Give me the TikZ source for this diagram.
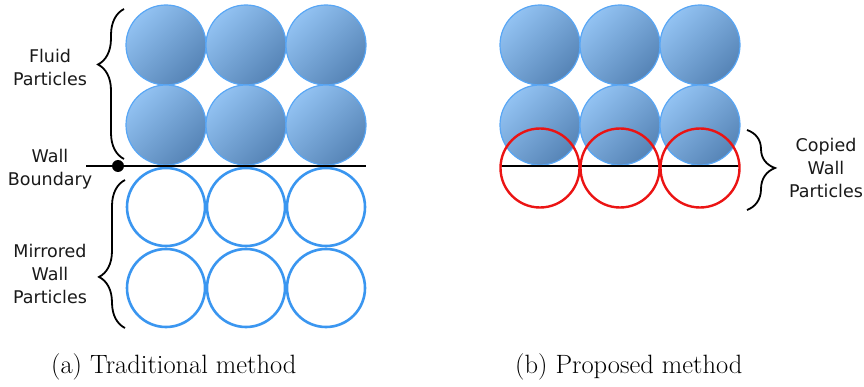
\documentclass[tikz,border=0pt]{standalone}
\usepackage{fontspec}
\newfontfamily\lblfont{DejaVu Sans}
\usetikzlibrary{decorations.pathreplacing}
\definecolor{fillA}{RGB}{146,194,242}
\definecolor{fillB}{RGB}{86,132,182}
\definecolor{ringblue}{RGB}{88,166,245}
\definecolor{openblue}{RGB}{58,150,240}
\definecolor{wallred}{RGB}{235,20,20}
\definecolor{txt}{RGB}{25,25,25}
\tikzset{
  fluid/.style={circle, minimum size=80pt, inner sep=0pt, draw=ringblue, line width=1.2pt,
    top color=fillA, bottom color=fillB, shading angle=45},
  mirror/.style={circle, minimum size=78pt, inner sep=0pt, draw=openblue, line width=2.6pt},
  copied/.style={circle, minimum size=79pt, inner sep=0pt, draw=wallred, line width=2.4pt},
  wall/.style={black, line width=2.4pt},
  bracestyle/.style={decorate, line width=1.8pt, black},
  lbl/.style={font=\lblfont\fontsize{17.5}{23}\selectfont, text=txt, align=center},
  captext/.style={font=\fontsize{26.5}{32}\selectfont, text=black, anchor=base west, inner sep=0pt}
}
\begin{document}
\begin{tikzpicture}[x=1pt,y=-1pt]
\useasboundingbox (0,0) rectangle (864,387);
% ---------- (a) traditional ----------
\foreach \c/\x in {1/166,2/246,3/326}{
  \node[fluid] (fa1\c) at (\x,45) {};
  \node[fluid] (fa2\c) at (\x,125) {};
  \node[mirror] (ma1\c) at (\x,207) {};
  \node[mirror] (ma2\c) at (\x,288) {};
}
\coordinate (wlA) at (86,166);
\coordinate (wrA) at (366,166);
\draw[wall] (wlA) -- (wrA);
\node[circle, fill=black, minimum size=12pt, inner sep=0pt] (dot) at (118,166) {};
\coordinate (b1s) at (124,159);
\coordinate (b1e) at (124,9);
\draw[bracestyle, decoration={brace, amplitude=26pt, aspect=0.63}] (b1s) -- (b1e);
\coordinate (b2s) at (125,328);
\coordinate (b2e) at (125,180);
\draw[bracestyle, decoration={brace, amplitude=26pt, aspect=0.345}] (b2s) -- (b2e);
\node[lbl] (lfluid) at (50,67) {Fluid\\Particles};
\node[lbl] (lwall) at (50,169) {Wall\\Boundary};
\node[lbl] (lmirror) at (50,274) {Mirrored\\Wall\\Particles};
\node[captext] (capa) at (51,373) {(a) Traditional method};
% ---------- (b) proposed ----------
\foreach \c/\x in {1/540,2/620,3/700}{
  \node[fluid] (fb1\c) at (\x,45) {};
  \node[fluid] (fb2\c) at (\x,125) {};
}
\coordinate (wlB) at (500,166);
\coordinate (wrB) at (740,166);
\draw[wall] (wlB) -- (wrB);
\foreach \c/\x in {1/540,2/620,3/700}{
  \node[copied] (cb\c) at (\x,168) {};
}
\coordinate (b3s) at (747,130);
\coordinate (b3e) at (747,210);
\draw[bracestyle, decoration={brace, amplitude=28pt, aspect=0.475}] (b3s) -- (b3e);
\node[lbl] (lcopied) at (826,168) {Copied\\Wall\\Particles};
\node[captext] (capb) at (515,373) {(b) Proposed method};
\end{tikzpicture}
\end{document}
